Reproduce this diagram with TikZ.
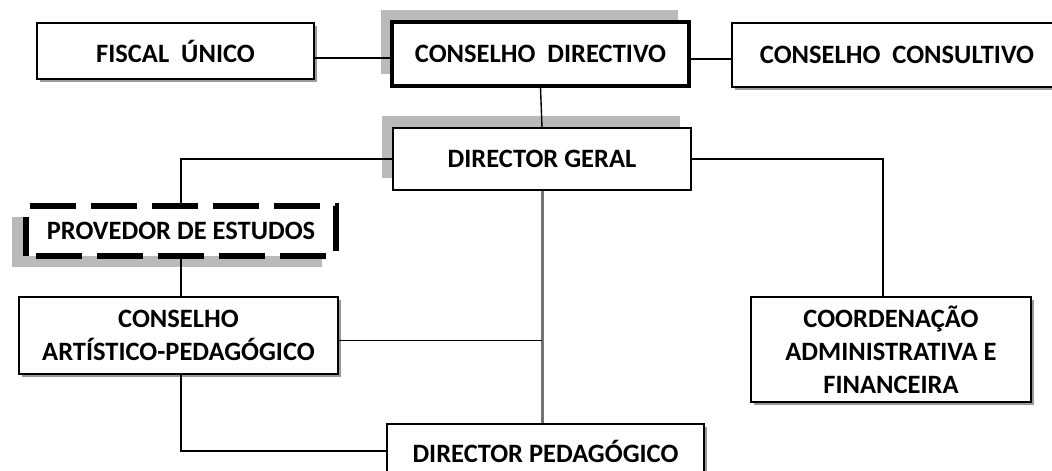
\documentclass[tikz,border=0pt]{standalone}
\usepackage{fontspec}
\setmainfont{Carlito}
\usetikzlibrary{shadows}

\begin{document}
\begin{tikzpicture}[x=1pt, y=-1pt,
    boxStyle/.style={rectangle, draw, line width=1.4pt, fill=white, align=center,
        font=\fontsize{26.5}{33}\selectfont\bfseries, inner sep=0pt,
        drop shadow={shadow xshift=2.5pt, shadow yshift=-2.5pt, fill=black!40, opacity=1}},
    bigShadeStyle/.style={rectangle, draw, fill=white, align=center,
        font=\fontsize{26.5}{33}\selectfont\bfseries, inner sep=0pt,
        drop shadow={shadow xshift=-11pt, shadow yshift=12pt, fill=black!27, opacity=1}},
    dashBoxStyle/.style={rectangle, draw, line width=5.5pt, dash pattern=on 46pt off 15pt, dash phase=-10pt,
        fill=white, align=center, font=\fontsize{26.5}{33}\selectfont\bfseries, inner sep=0pt,
        drop shadow={shadow xshift=-14pt, shadow yshift=-11pt, fill=black!27, opacity=1}},
    lineStyle/.style={line width=1.4pt},
    trunkStyle/.style={line width=3pt, draw=black!55}]
    \useasboundingbox (0,0) rectangle (1052,471);
    \clip (0,0) rectangle (1052,471);

    \node[boxStyle, minimum width=277pt, minimum height=56pt] (fiscal) at (175.5, 51) {FISCAL\ \ ÚNICO};
    \node[bigShadeStyle, line width=3.2pt, minimum width=297pt, minimum height=64pt] (directivo) at (540.5, 54) {CONSELHO\ \ DIRECTIVO};
    \node[boxStyle, minimum width=330pt, minimum height=64pt] (consultivo) at (897, 55) {CONSELHO\ \ CONSULTIVO};

    \node[bigShadeStyle, line width=1.6pt, minimum width=298pt, minimum height=62pt] (geral) at (542, 159) {DIRECTOR GERAL};

    \node[dashBoxStyle, minimum width=310pt, minimum height=50pt] (provedor) at (181, 231) {PROVEDOR DE ESTUDOS};

    \node[boxStyle, minimum width=319pt, minimum height=77pt] (artistico) at (178.5, 335.5) {CONSELHO\\ARTÍSTICO-PEDAGÓGICO};
    \node[boxStyle, minimum width=280pt, minimum height=105pt] (coordenacao) at (891, 349.5) {COORDENAÇÃO\\ADMINISTRATIVA E\\FINANCEIRA};

    \node[boxStyle, minimum width=317pt, minimum height=54pt] (pedagogico) at (545.5, 451) {DIRECTOR PEDAGÓGICO};

    % ligacoes
    \draw[lineStyle] ([yshift=-7pt]fiscal.east) -- ([yshift=-7pt]fiscal.east -| directivo.west);
    \draw[lineStyle] ([yshift=-5pt]directivo.east) -- ([yshift=-5pt]directivo.east -| consultivo.west);
    \draw[lineStyle] (directivo.south) -- (geral.north);
    \draw[lineStyle] (geral.west) -| (provedor.north);
    \draw[lineStyle] (geral.east) -| ([xshift=-8pt]coordenacao.north);
    \draw[lineStyle] (provedor.south) -- (provedor.south |- artistico.north);
    \draw[lineStyle] ([xshift=2.5pt]artistico.south) |- (pedagogico.west);
    \draw[trunkStyle] (geral.south) -- (geral.south |- pedagogico.north);
    \draw[lineStyle] ([yshift=-5pt]artistico.east) -- ([yshift=-5pt]artistico.east -| geral.south);
\end{tikzpicture}
\end{document}
